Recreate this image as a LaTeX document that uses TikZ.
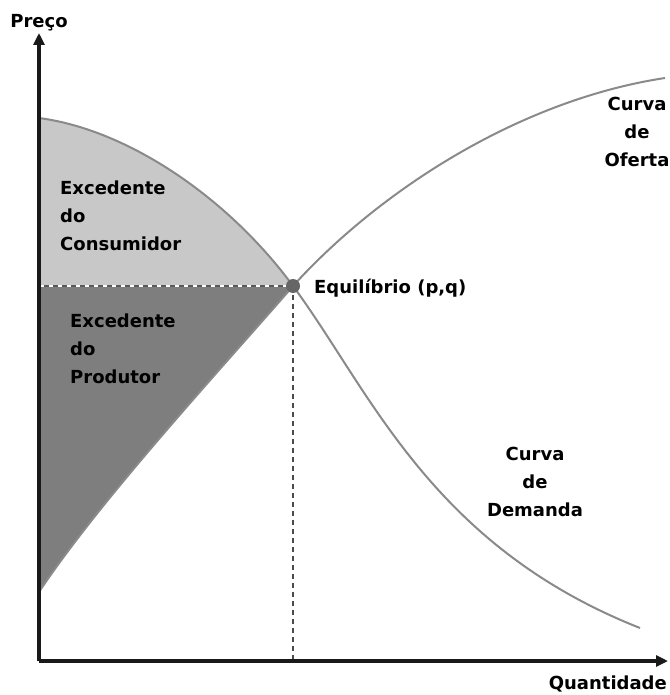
\documentclass[tikz,border=0pt]{standalone}
\usepackage{fontspec}
\setmainfont{DejaVu Sans}
\usetikzlibrary{arrows.meta}
\definecolor{lightfill}{HTML}{C8C8C8}
\definecolor{darkfill}{HTML}{7E7E7E}
\definecolor{curvegray}{HTML}{8A8A8A}
\tikzset{
  axis/.style={line width=3.2pt, draw=black!90, -{Triangle[length=12pt,width=11pt]}},
  curve/.style={line width=2pt, draw=curvegray},
  lbl/.style={font=\bfseries\fontsize{18}{28}\selectfont, inner sep=0pt},
}
\begin{document}
\begin{tikzpicture}[x=1pt,y=-1pt]
\useasboundingbox (0,0) rectangle (669,695);
\coordinate (O) at (39,661);
\coordinate (ytop) at (39,33);
\coordinate (xend) at (668,661);
\coordinate (E) at (293,286);
\coordinate (D0) at (39,118);
\coordinate (S0) at (39,592);
\coordinate (D1) at (640,628);
\coordinate (S1) at (665,78);
\coordinate (P) at (39,286);
\coordinate (Q) at (293,661);
% consumer surplus
\fill[lightfill] (D0) .. controls (130,130) and (230,200) .. (E) -- (P) -- cycle;
% producer surplus
\fill[darkfill] (S0) .. controls (100,500) and (220,370) .. (E) -- (P) -- cycle;
% curves
\draw[curve] (D0) .. controls (130,130) and (230,200) .. (E) .. controls (370,390) and (430,545) .. (D1);
\draw[curve] (S0) .. controls (100,500) and (220,370) .. (E) .. controls (380,190) and (520,100) .. (S1);
% dashed guides
\draw[line width=2pt, white, dash pattern=on 5pt off 4pt] (P) -- (E);
\draw[line width=2pt, black!65, dash pattern=on 5pt off 4pt, dash phase=4.5pt] (P) -- (E);
\draw[line width=2pt, black!70, dash pattern=on 5pt off 4pt] (E) -- (Q);
% axes
\draw[axis] (O) -- (ytop);
\draw[axis] (O) -- (xend);
\fill[black!60] (E) circle (7pt);
% labels
\node[lbl, anchor=base] (preco) at (39,28) {Preço};
\node[lbl, anchor=base east] (quant) at (667,689) {Quantidade};
\node[lbl, anchor=west] (eq) at (314,288) {Equilíbrio (p,q)};
\node[lbl, align=left, anchor=north west] (ec) at (60,181) {Excedente\\do\\Consumidor};
\node[lbl, align=left, anchor=north west] (ep) at (70,314) {Excedente\\do\\Produtor};
\node[lbl, align=center, anchor=north] (co) at (637,97) {Curva\\de\\Oferta};
\node[lbl, align=center, anchor=north] (cd) at (535,447) {Curva\\de\\Demanda};
\end{tikzpicture}
\end{document}
